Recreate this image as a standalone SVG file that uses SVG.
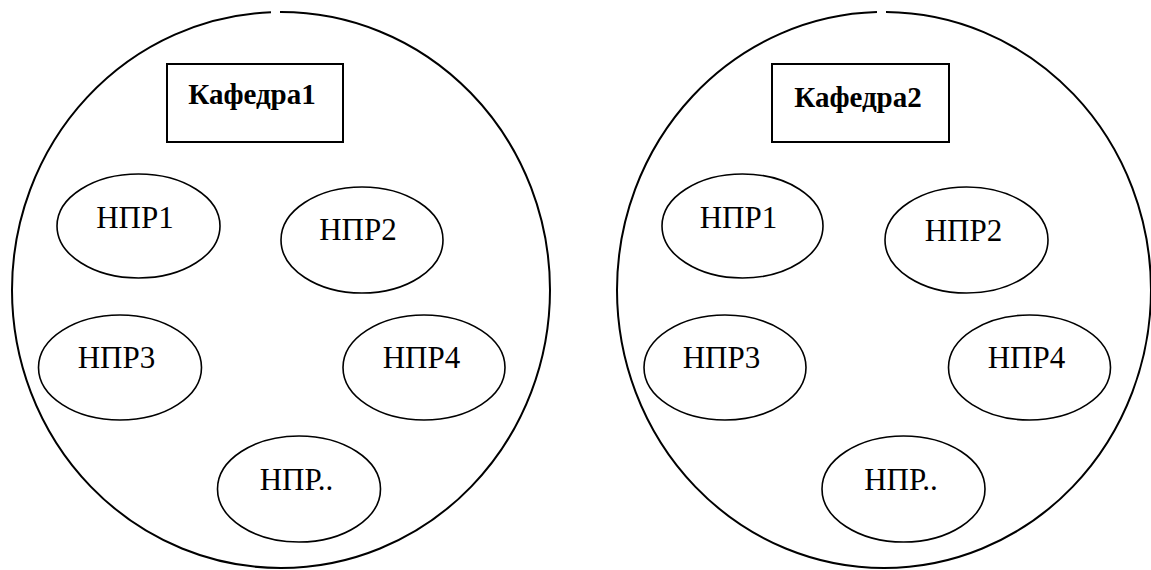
<svg xmlns="http://www.w3.org/2000/svg" width="1151" height="570" viewBox="0 0 1151 570">
<style>
  .big{fill:none;stroke:#000;stroke-width:2}
  .box{fill:#fff;stroke:#000;stroke-width:2}
  .ell{fill:#fff;stroke:#000;stroke-width:1.6}
  .t{font-family:"Liberation Serif","Times New Roman",serif;font-size:31px;fill:#000;text-anchor:middle}
  .h{font-family:"Liberation Serif","Times New Roman",serif;font-size:29px;font-weight:bold;fill:#000;text-anchor:middle}
</style>
<rect width="1151" height="570" fill="#fff"/>
<g id="dept1">
  <path class="big" d="M 280 12 A 269 278 0 0 1 550 290 A 269 278 0 0 1 281 568 A 269 278 0 0 1 12 290 A 269 278 0 0 1 271 12.2"/>
  <g id="dept1-head">
    <rect class="box" x="167" y="64" width="176" height="78"/>
    <text class="h" x="252" y="104">Кафедра1</text>
  </g>
  <g id="d1-npr1"><ellipse class="ell" cx="138.5" cy="226" rx="81.5" ry="52"/><text class="t" x="135" y="228">НПР1</text></g>
  <g id="d1-npr2"><ellipse class="ell" cx="362" cy="240" rx="81" ry="53"/><text class="t" x="358" y="240">НПР2</text></g>
  <g id="d1-npr3"><ellipse class="ell" cx="120" cy="367.5" rx="81.5" ry="52.5"/><text class="t" x="116.5" y="368">НПР3</text></g>
  <g id="d1-npr4"><ellipse class="ell" cx="424" cy="367.5" rx="81" ry="52.5"/><text class="t" x="421.5" y="368">НПР4</text></g>
  <g id="d1-npr5"><ellipse class="ell" cx="299" cy="489" rx="81.5" ry="53"/><text class="t" x="296.5" y="490">НПР..</text></g>
</g>
<g id="dept2">
  <path class="big" d="M 886 12 A 267 278 0 0 1 1151 290 A 267 278 0 0 1 884 568 A 267 278 0 0 1 617 290 A 267 278 0 0 1 877 12.1"/>
  <g id="dept2-head">
    <rect class="box" x="772" y="64" width="177" height="78"/>
    <text class="h" x="858" y="107">Кафедра2</text>
  </g>
  <g id="d2-npr1"><ellipse class="ell" cx="742.5" cy="226" rx="80.5" ry="52"/><text class="t" x="738.5" y="228">НПР1</text></g>
  <g id="d2-npr2"><ellipse class="ell" cx="966.5" cy="240" rx="81.5" ry="53"/><text class="t" x="963.5" y="241">НПР2</text></g>
  <g id="d2-npr3"><ellipse class="ell" cx="725" cy="367.5" rx="81" ry="52.5"/><text class="t" x="721.5" y="368">НПР3</text></g>
  <g id="d2-npr4"><ellipse class="ell" cx="1029.5" cy="367.5" rx="81" ry="52.5"/><text class="t" x="1026.5" y="368">НПР4</text></g>
  <g id="d2-npr5"><ellipse class="ell" cx="903.5" cy="489" rx="81.5" ry="53"/><text class="t" x="901" y="490">НПР..</text></g>
</g>
<g id="connectors"></g>
</svg>
